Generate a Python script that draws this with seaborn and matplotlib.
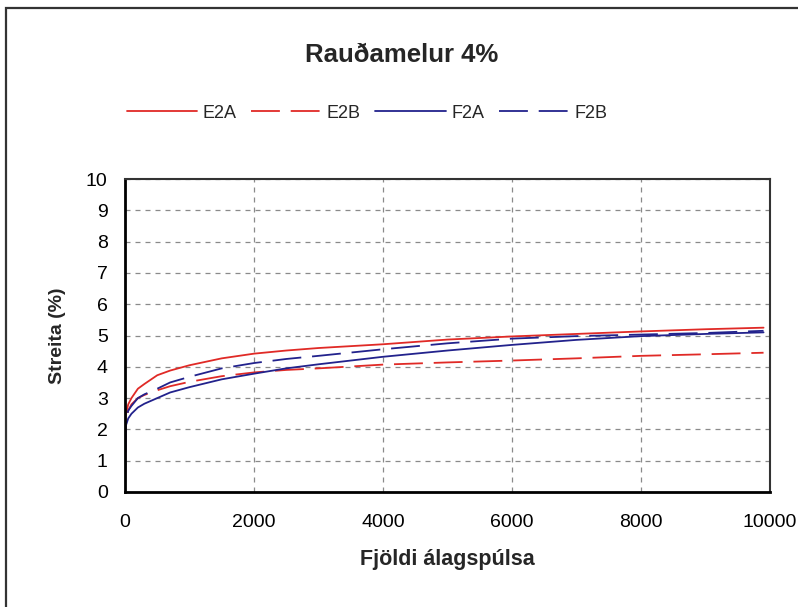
import pandas as pd
import seaborn as sns
import matplotlib.pyplot as plt
from matplotlib import font_manager
from matplotlib.patches import Rectangle

# data
pulses = [0, 10, 50, 100, 200, 300, 500, 700, 1000, 1500, 2000, 2500, 3000,
          4000, 5000, 6000, 7000, 8000, 9000, 9900]
e2a = [0, 2.45, 2.8, 3.0, 3.3, 3.45, 3.73, 3.88, 4.05, 4.27, 4.42, 4.52, 4.6,
       4.72, 4.87, 4.97, 5.05, 5.13, 5.2, 5.25]
e2b = [0, 2.3, 2.6, 2.8, 3.0, 3.1, 3.25, 3.38, 3.52, 3.7, 3.82, 3.9, 3.95,
       4.07, 4.14, 4.2, 4.27, 4.35, 4.4, 4.45]
f2a = [0, 2.1, 2.35, 2.5, 2.7, 2.82, 3.0, 3.18, 3.35, 3.6, 3.78, 3.95, 4.08,
       4.32, 4.52, 4.7, 4.86, 4.98, 5.05, 5.1]
f2b = [0, 2.3, 2.6, 2.75, 3.0, 3.12, 3.3, 3.5, 3.68, 3.95, 4.12, 4.25, 4.35,
       4.56, 4.75, 4.9, 4.98, 5.03, 5.08, 5.15]
series = ["E2A", "E2B", "F2A", "F2B"]

red = "#e02a26"
blue = "#22228c"

df = pd.DataFrame({
    "pulses": pulses * 4,
    "strain": e2a + e2b + f2a + f2b,
    "series": [s for s in series for _ in pulses],
})

sns.set_style("white")
names = {f.name for f in font_manager.fontManager.ttflist}
narrow = "Liberation Sans Narrow" in names
if narrow:
    plt.rcParams["font.family"] = ["Liberation Sans Narrow", "Liberation Sans", "DejaVu Sans"]
    k = 1.15
else:
    plt.rcParams["font.family"] = ["Liberation Sans", "DejaVu Sans"]
    k = 1.0

fig = plt.figure(figsize=(7.98, 6.07), dpi=100)
ax = fig.add_axes([125 / 798, 1 - 492 / 607, 645 / 798, 313 / 607])

sns.lineplot(data=df, x="pulses", y="strain", hue="series", style="series",
             palette={"E2A": red, "E2B": red, "F2A": blue, "F2B": blue},
             dashes={"E2A": "", "E2B": (16, 6), "F2A": "", "F2B": (16, 6)},
             linewidth=1.3, ax=ax, legend=True)

ax.set_xlim(0, 10000)
ax.set_ylim(0, 10)
ax.set_xticks(range(0, 10001, 2000))
ax.set_yticks(range(0, 11))
ax.grid(True, color="#8a8a8a", linestyle=(0, (4, 4)), linewidth=0.9)
ax.set_axisbelow(True)
ax.tick_params(direction="inout", length=9, width=1.4, labelsize=14 * k, colors="black")
ax.tick_params(axis="x", pad=11)
ax.tick_params(axis="y", pad=8)
for side in ["left", "bottom"]:
    ax.spines[side].set_color("black")
    ax.spines[side].set_linewidth(2)
for side in ["top", "right"]:
    ax.spines[side].set_color("#333333")
    ax.spines[side].set_linewidth(1.5)

ax.set_xlabel("Fjöldi álagspúlsa", fontsize=15.5 * k, fontweight="bold", labelpad=13)
ax.set_ylabel("Streita (%)", fontsize=14 * k, fontweight="bold", labelpad=14)

handles, labels = ax.get_legend_handles_labels()
ax.get_legend().remove()
fig.legend(handles, labels, loc="center", bbox_to_anchor=(367 / 798, 1 - 113 / 607),
           ncol=4, frameon=False, fontsize=13 * k, handlelength=3.9 / k,
           handletextpad=0.3, columnspacing=0.8)

fig.suptitle("Rauðamelur 4%", x=402 / 798, y=1 - 55 / 607, va="center",
             fontsize=18.5 * k, fontweight="bold")

# outer chart frame (only left and top edges show in the scan)
fig.add_artist(Rectangle((6 / 798, -0.1), 1.2, 1.1 - 8 / 607, transform=fig.transFigure,
                         fill=False, edgecolor="#333333", linewidth=1.6))

fig.savefig("out.png", dpi=100)
